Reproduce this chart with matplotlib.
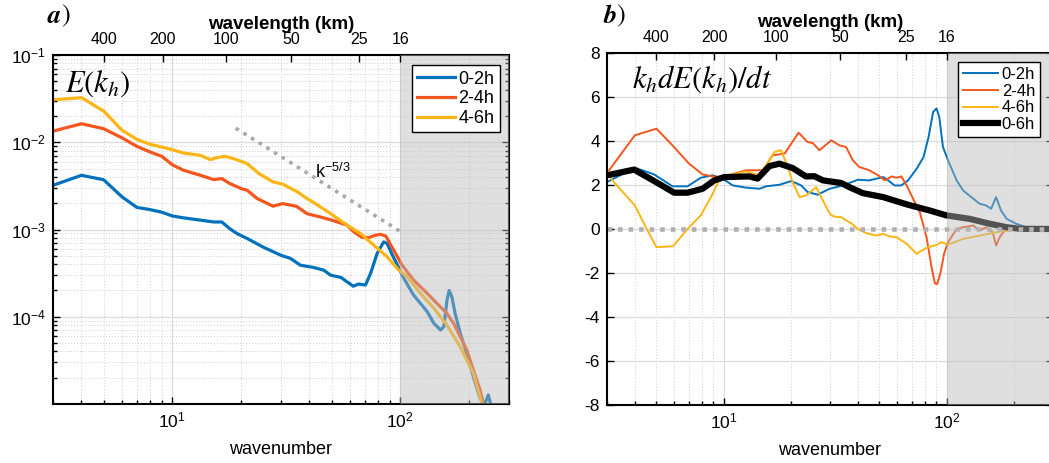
import numpy as np
import matplotlib
matplotlib.use("Agg")
import matplotlib.pyplot as plt
from matplotlib.ticker import NullFormatter, LogLocator

plt.rcParams['font.family'] = 'Liberation Sans'
plt.rcParams['mathtext.fontset'] = 'stix'
plt.rcParams['axes.unicode_minus'] = False

# ---- panel a: energy spectra E(k_h) ----
k_02 = [3, 4, 5, 6.03, 7, 8, 9, 10, 11.2, 13.3, 15.2, 16.5, 17.9, 19.2, 21.3, 25, 29.9, 33,
        36.5, 41.7, 46.2, 49.5, 55, 58.5, 62.3, 65.6, 70.4, 74.1, 79.2, 84.6, 87.6, 92.4, 97.3,
        101.9, 109, 114.5, 122.8, 131.4, 140.5, 150.4, 155.4, 160.4, 164, 168.5, 174.1, 183.2,
        195.8, 209.4, 224, 235.4, 243.6, 249.6]
E_02 = [3.21e-3, 4.18e-3, 3.72e-3, 2.36e-3, 1.79e-3, 1.69e-3, 1.58e-3, 1.43e-3, 1.36e-3, 1.28e-3,
        1.22e-3, 1.22e-3, 1.02e-3, 9.0e-4, 7.9e-4, 6.3e-4, 5.08e-4, 4.66e-4, 3.9e-4, 3.67e-4,
        3.42e-4, 3.0e-4, 2.82e-4, 2.51e-4, 2.24e-4, 2.37e-4, 2.31e-4, 3.13e-4, 5.31e-4, 7.21e-4,
        6.92e-4, 5.08e-4, 3.9e-4, 3.0e-4, 2.2e-4, 1.77e-4, 1.42e-4, 1.14e-4, 8.4e-5, 7.05e-5,
        7.7e-5, 1.55e-4, 2.0e-4, 1.69e-4, 1.09e-4, 6.5e-5, 3.8e-5, 2.06e-5, 1.16e-5, 1.02e-5,
        1.27e-5, 9.8e-6]

k_24 = [3, 4, 5, 6.03, 7, 8, 9, 10, 11.2, 13.3, 15.2, 16.5, 17.9, 20.1, 21.3, 23.6, 27.7, 30.5,
        35, 39, 44.7, 51.1, 58.5, 62.6, 68.1, 72.9, 77.9, 82, 86.5, 91, 97.3, 101.9, 114.5,
        131.4, 145, 160.4, 171.5, 183.2, 195.8, 209.4, 224, 231.6, 236]
E_24 = [1.34e-2, 1.63e-2, 1.43e-2, 1.12e-2, 8.97e-3, 7.73e-3, 6.9e-3, 5.53e-3, 4.78e-3, 4.18e-3,
        3.73e-3, 3.83e-3, 3.36e-3, 2.94e-3, 2.82e-3, 2.26e-3, 1.85e-3, 1.98e-3, 1.85e-3, 1.52e-3,
        1.39e-3, 1.26e-3, 1.12e-3, 9.4e-4, 8.1e-4, 8.1e-4, 8.6e-4, 8.8e-4, 8.4e-4, 6.6e-4,
        4.86e-4, 3.9e-4, 2.63e-4, 1.85e-4, 1.42e-4, 1.09e-4, 8.4e-5, 5.9e-5, 4.16e-5, 2.45e-5,
        1.45e-5, 1.02e-5, 9.0e-6]

k_46 = [3, 4, 5, 6.03, 7, 8, 9, 10, 11.2, 13.3, 14.7, 15.7, 17.1, 19.2, 21.3, 24, 27.7, 30.5,
        35.5, 39, 41.7, 49.5, 58.5, 67, 76.6, 87.6, 98.6, 107.3, 122.8, 140.5, 160.4, 183.2,
        209.4, 228, 232]
E_46 = [3.07e-2, 3.24e-2, 2.28e-2, 1.37e-2, 1.08e-2, 9.46e-3, 8.81e-3, 8.22e-3, 7.53e-3, 7.08e-3,
        6.31e-3, 6.67e-3, 6.9e-3, 6.31e-3, 5.69e-3, 4.38e-3, 3.51e-3, 3.31e-3, 2.69e-3, 2.26e-3,
        2.04e-3, 1.52e-3, 1.12e-3, 9.0e-4, 6.6e-4, 4.86e-4, 3.42e-4, 2.87e-4, 1.85e-4, 1.25e-4,
        8.0e-5, 4.54e-5, 2.25e-5, 1.02e-5, 9.0e-6]

k_ref = [19, 100]
E_ref = [1.45e-2, 9.5e-4]

# ---- panel b: k_h dE/dt ----
kb_02 = [3, 4, 4.88, 5.9, 6.89, 7.9, 8.9, 9.9, 11, 12.6, 14.5, 15.5, 17.8, 20.1, 22.3, 23.8, 26.4,
         29.9, 34.3, 40, 45, 51.9, 54.7, 58.4, 62.6, 67.2, 73.4, 78.8, 83, 87, 90.1, 92.7, 96.3,
         101.5, 110.9, 118.6, 131.6, 140.6, 150.5, 158.3, 166.7, 175.4, 186, 205, 228, 250, 300]
T_02 = [2.13, 2.79, 2.48, 1.94, 1.94, 2.33, 2.44, 2.29, 1.98, 1.88, 1.83, 1.94, 2.01, 2.18, 1.98,
        1.68, 1.56, 1.83, 1.98, 2.24, 2.21, 2.36, 2.21, 1.98, 1.98, 2.21, 2.74, 3.27, 4.18, 5.32,
        5.48, 5.09, 3.73, 3.12, 2.21, 1.75, 1.38, 1.15, 1.07, 0.92, 1.45, 0.84, 0.46, 0.24, 0.08,
        0.0, 0.0]

kb_24 = [3, 4, 5, 5.9, 7.0, 8.05, 8.9, 9.9, 12.6, 15, 16.6, 18.8, 20.1, 21.7, 23.8, 25.1, 26.9,
         30.4, 33.1, 35.4, 38, 40.6, 45, 49.3, 52.8, 54.7, 56.6, 59.6, 62.7, 66.2, 70.7, 75.8,
         81.3, 85.6, 88.6, 90.8, 94, 97.4, 101.5, 110.9, 118.6, 131.6, 140.6, 150.5, 161, 166.7,
         173, 182, 210]
T_24 = [2.54, 4.26, 4.56, 3.80, 2.97, 2.48, 2.39, 2.36, 2.67, 2.67, 3.35, 3.43, 3.88, 4.38, 3.95,
        3.91, 3.58, 4.03, 3.80, 3.73, 3.12, 2.82, 2.67, 2.44, 2.21, 2.29, 2.39, 2.33, 2.39, 1.98,
        1.38, 0.77, -0.37, -1.74, -2.47, -2.50, -1.97, -1.13, -0.60, 0.0, 0.08, 0.16, -0.07, 0.08,
        -0.15, -0.75, -0.37, -0.07, 0.0]

kb_46 = [3, 3.17, 4, 4.48, 5, 5.94, 6.89, 7.9, 8.78, 9.73, 11, 12.6, 14.5, 15.8, 16.9, 18.1, 19.4,
         20.4, 21.9, 23.4, 26, 27.4, 29.4, 30.4, 32, 33.7, 35.4, 37.3, 40, 43.7, 48.4, 51.9, 55.6,
         59.6, 66.2, 73.4, 77.2, 82.6, 88.6, 94.8, 101.5, 118.6, 140.6, 166.7, 205]
T_46 = [2.70, 2.21, 1.07, 0.08, -0.83, -0.78, 0.0, 0.62, 1.45, 2.39, 2.48, 2.62, 2.44, 3.04, 3.50,
        3.58, 2.82, 2.13, 1.45, 1.53, 1.90, 1.45, 0.84, 0.62, 0.54, 0.54, 0.39, 0.27, 0.0, -0.19,
        -0.30, -0.22, -0.34, -0.37, -0.67, -1.13, -0.98, -0.83, -0.75, -0.60, -0.71, -0.45,
        -0.30, -0.15, 0.0]

kb_06 = [3, 3.97, 4.98, 6.0, 6.89, 8.05, 9.08, 10.07, 13.05, 14.2, 16.05, 17.8, 20.4, 23.4, 25.5,
         27.9, 33.7, 36.7, 42.1, 51.9, 66.2, 84.1, 99.7, 127, 156, 186, 213, 300]
T_06 = [2.44, 2.70, 2.13, 1.65, 1.65, 1.83, 2.21, 2.36, 2.39, 2.29, 2.86, 2.97, 2.77, 2.39, 2.40,
        2.21, 2.09, 1.90, 1.63, 1.45, 1.12, 0.84, 0.62, 0.46, 0.24, 0.08, 0.01, 0.0]

# wavelength axis on top
k_top = [5, 9.1, 17.2, 33.2, 65.8, 100]
lam_top = ['400', '200', '100', '50', '25', '16']

c_blue = '#0072BD'
c_orange = '#F4561D'
c_yellow = '#FDB515'
patch_gray = (0.73, 0.73, 0.73)


def style_axes(ax):
    ax.set_xscale('log')
    ax.set_xlim(3, 300)
    ax.set_xticks([10, 100])
    ax.xaxis.set_minor_formatter(NullFormatter())
    ax.tick_params(which='both', direction='in', top=False, right=True, width=1,
                   labelsize=12.5, pad=5)
    ax.tick_params(which='major', length=5)
    ax.tick_params(which='minor', length=3)
    for s in ax.spines.values():
        s.set_linewidth(1.5)
    ax.grid(True, which='major', color='#dcdcdc', lw=0.9, ls='-')
    ax.set_axisbelow(True)
    # shaded band beyond k = 100, drawn over the curves
    ax.axvspan(100, 1000, facecolor=patch_gray, alpha=0.45, lw=0, zorder=3)
    ax.set_xlabel('wavenumber', fontsize=13, labelpad=7)
    top = ax.twiny()
    top.set_xscale('log')
    top.set_xlim(ax.get_xlim())
    top.set_xticks(k_top)
    top.set_xticklabels(lam_top)
    top.xaxis.set_minor_locator(plt.NullLocator())
    top.tick_params(direction='in', length=5, width=1, labelsize=11.5, pad=6)
    top.set_xlabel('wavelength (km)', fontsize=13.5, fontweight='bold', labelpad=2)
    for s in top.spines.values():
        s.set_visible(False)
    return top


fig = plt.figure(figsize=(10.49, 4.63), dpi=100)
ax1 = fig.add_axes([53 / 1049, 1 - 404 / 463, 456 / 1049, 349 / 463])
ax2 = fig.add_axes([607 / 1049, 1 - 405 / 463, 446 / 1049, 352 / 463])

# panel a
style_axes(ax1)
ax1.set_yscale('log')
ax1.set_ylim(1e-5, 1e-1)
ax1.set_yticks([1e-4, 1e-3, 1e-2, 1e-1])
ax1.yaxis.set_minor_locator(LogLocator(subs=np.arange(2, 10)))
ax1.yaxis.set_minor_formatter(NullFormatter())
ax1.grid(True, which='minor', color='#cfcfcf', lw=0.7, ls=(0, (1, 2)))
ax1.plot(k_02, E_02, color=c_blue, lw=2.3, label='0-2h', zorder=2)
ax1.plot(k_24, E_24, color=c_orange, lw=2.3, label='2-4h', zorder=2)
ax1.plot(k_46, E_46, color=c_yellow, lw=2.3, label='4-6h', zorder=2)
ax1.plot(k_ref, E_ref, color='#aaaaaa', lw=2.6, ls=(0, (1, 1.5)), zorder=2)
ax1.text(42.5, 3.9e-3, r'k$^{\mathregular{-5/3}}$', fontsize=13)
ax1.text(0.026, 0.894, r'$E(k_h)$', transform=ax1.transAxes, fontsize=22, va='baseline')
leg1 = ax1.legend(loc='upper right', bbox_to_anchor=(0.980, 0.971), borderaxespad=0,
                  fontsize=13, handlelength=2.1, handletextpad=0.2, borderpad=0.3,
                  labelspacing=0.15, fancybox=False, framealpha=1, edgecolor='black')
leg1.get_frame().set_linewidth(1.0)
leg1.set_zorder(6)

# panel b
style_axes(ax2)
ax2.set_ylim(-8, 8)
ax2.set_yticks(np.arange(-8, 9, 2))
ax2.grid(True, which='minor', axis='x', color='#cfcfcf', lw=0.7, ls=(0, (1, 2)))
ax2.plot(kb_02, T_02, color=c_blue, lw=1.4, label='0-2h', zorder=2)
ax2.plot(kb_24, T_24, color=c_orange, lw=1.4, label='2-4h', zorder=2)
ax2.plot(kb_46, T_46, color=c_yellow, lw=1.4, label='4-6h', zorder=2)
ax2.plot(kb_06, T_06, color='black', lw=4.5, label='0-6h', zorder=2)
ax2.axhline(0, color='#b0b0b0', lw=3.3, ls=(0, (1, 1.3)), zorder=2.5)
ax2.text(0.056, 0.903, r'$k_h dE(k_h)/dt$', transform=ax2.transAxes, fontsize=22, va='baseline')
leg2 = ax2.legend(loc='upper right', bbox_to_anchor=(0.971, 0.974), borderaxespad=0,
                  fontsize=12, handlelength=2.1, handletextpad=0.2, borderpad=0.3,
                  labelspacing=0.1, fancybox=False, framealpha=1, edgecolor='black')
leg2.get_frame().set_linewidth(1.0)
leg2.set_zorder(6)

# panel letters: bold italic letter followed by an upright parenthesis
for x0, letter in [(48 / 1049, 'a'), (603 / 1049, 'b')]:
    t = fig.text(x0, 1 - 23 / 463, letter, family='STIXGeneral', weight='bold',
                 style='italic', fontsize=19, va='baseline')
    fig.add_artist(plt.Annotation(')', xy=(1, 0), xycoords=t, va='bottom',
                                  fontsize=19, family='STIXGeneral'))

fig.savefig('out.png', dpi=100)
